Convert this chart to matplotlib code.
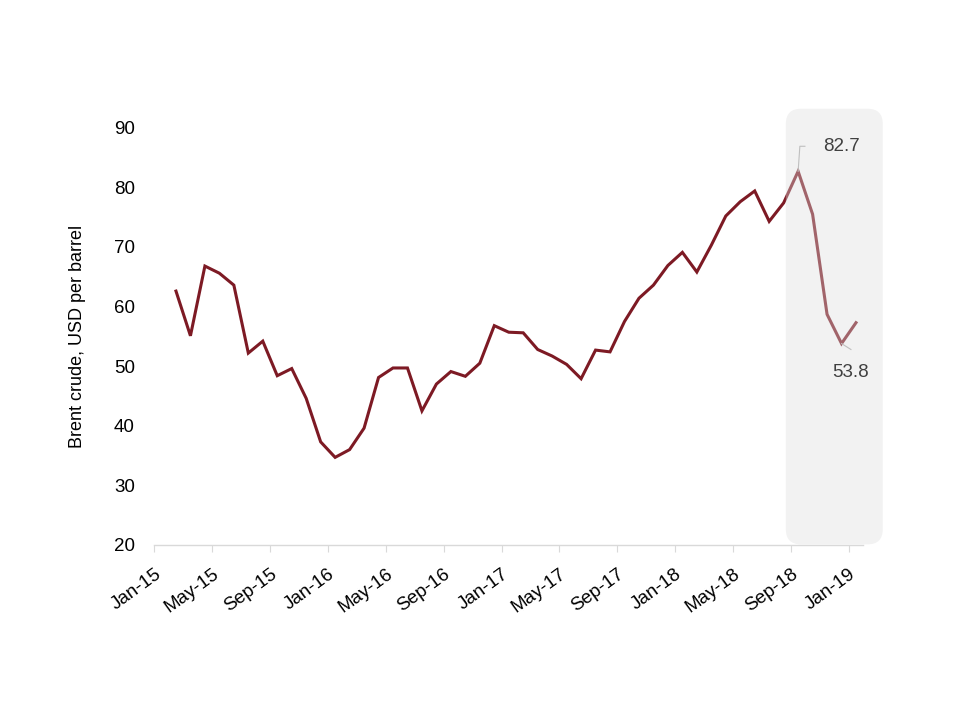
import numpy as np
import matplotlib
matplotlib.use("Agg")
from matplotlib import pyplot as plt
from matplotlib.patches import FancyBboxPatch
from matplotlib.transforms import ScaledTranslation

plt.rcParams['font.family'] = ['Liberation Sans', 'DejaVu Sans']

# Brent crude, month-end, Feb-15 .. Jan-19
months = ["Feb-15", "Mar-15", "Apr-15", "May-15", "Jun-15", "Jul-15", "Aug-15", "Sep-15",
          "Oct-15", "Nov-15", "Dec-15", "Jan-16", "Feb-16", "Mar-16", "Apr-16", "May-16",
          "Jun-16", "Jul-16", "Aug-16", "Sep-16", "Oct-16", "Nov-16", "Dec-16", "Jan-17",
          "Feb-17", "Mar-17", "Apr-17", "May-17", "Jun-17", "Jul-17", "Aug-17", "Sep-17",
          "Oct-17", "Nov-17", "Dec-17", "Jan-18", "Feb-18", "Mar-18", "Apr-18", "May-18",
          "Jun-18", "Jul-18", "Aug-18", "Sep-18", "Oct-18", "Nov-18", "Dec-18", "Jan-19"]
price = [62.6, 55.1, 66.8, 65.6, 63.6, 52.2, 54.2, 48.4,
         49.6, 44.6, 37.3, 34.7, 36.0, 39.6, 48.1, 49.7,
         49.7, 42.5, 47.0, 49.1, 48.3, 50.5, 56.8, 55.7,
         55.6, 52.8, 51.7, 50.3, 47.9, 52.7, 52.4, 57.5,
         61.4, 63.6, 66.9, 69.1, 65.8, 70.3, 75.2, 77.6,
         79.4, 74.3, 77.4, 82.7, 75.5, 58.7, 53.8, 57.3]

tick_labels = ["Jan-15", "May-15", "Sep-15", "Jan-16", "May-16", "Sep-16", "Jan-17",
               "May-17", "Sep-17", "Jan-18", "May-18", "Sep-18", "Jan-19"]
yticks = [20, 30, 40, 50, 60, 70, 80, 90]

peak_label = "82.7"
low_label = "53.8"

fig = plt.figure(figsize=(9.6, 7.2), dpi=100)
ax = fig.add_axes([0.1607, 0.2431, 0.7385, 0.5794])

# month index: Jan-15 = 0, each point sits in the middle of its month
x = np.arange(len(price)) + 1.5
ax.plot(x, price, color='#7d1a24', lw=2.2, zorder=2, solid_joinstyle='miter')

ax.set_xlim(0, 49)
ax.set_ylim(20, 90)

ax.set_xticks(np.arange(len(tick_labels)) * 4)
ax.set_xticklabels(tick_labels, rotation=36, ha='right', rotation_mode='anchor', fontsize=13.5)
ax.set_yticks(yticks)
ax.set_yticklabels([str(v) for v in yticks], fontsize=13.5)

shift = ScaledTranslation(0.07, 0, fig.dpi_scale_trans)
for lab in ax.get_xticklabels():
    lab.set_transform(lab.get_transform() + shift)

for s in ['top', 'right', 'left']:
    ax.spines[s].set_visible(False)
ax.spines['bottom'].set_color('#d9d9d9')
ax.spines['bottom'].set_linewidth(1.0)
ax.tick_params(axis='x', direction='out', length=5, color='#d9d9d9', pad=10)
ax.tick_params(axis='y', length=0, pad=14)

ax.set_ylabel("Brent crude, USD per barrel", fontsize=13, labelpad=20)

# highlight panel over the last months
box = FancyBboxPatch((43.65, 20.1), 6.7, 73.1,
                     boxstyle="round,pad=0,rounding_size=1.05",
                     mutation_aspect=14.47 / 5.96,
                     facecolor='#dddddd', edgecolor='none', alpha=0.38,
                     transform=ax.transData, clip_on=False, zorder=3)
ax.add_patch(box)

# annotations
i_peak = price.index(82.7)
i_low = price.index(53.8)
ax.plot([x[i_peak], x[i_peak] + 0.12, x[i_peak] + 0.47], [price[i_peak], 86.9, 86.9],
        color='#bfbfbf', lw=0.8, zorder=4, clip_on=False)
ax.text(46.2, 86.8, peak_label, fontsize=13.5, color='#404040', ha='left', va='center', zorder=5)
ax.plot([x[i_low], x[i_low] + 0.65], [price[i_low], 52.8],
        color='#bfbfbf', lw=0.8, zorder=4, clip_on=False)
ax.text(48.15, 48.9, low_label, fontsize=13.5, color='#404040', ha='center', va='center', zorder=5)

fig.savefig("out.png", dpi=100)
